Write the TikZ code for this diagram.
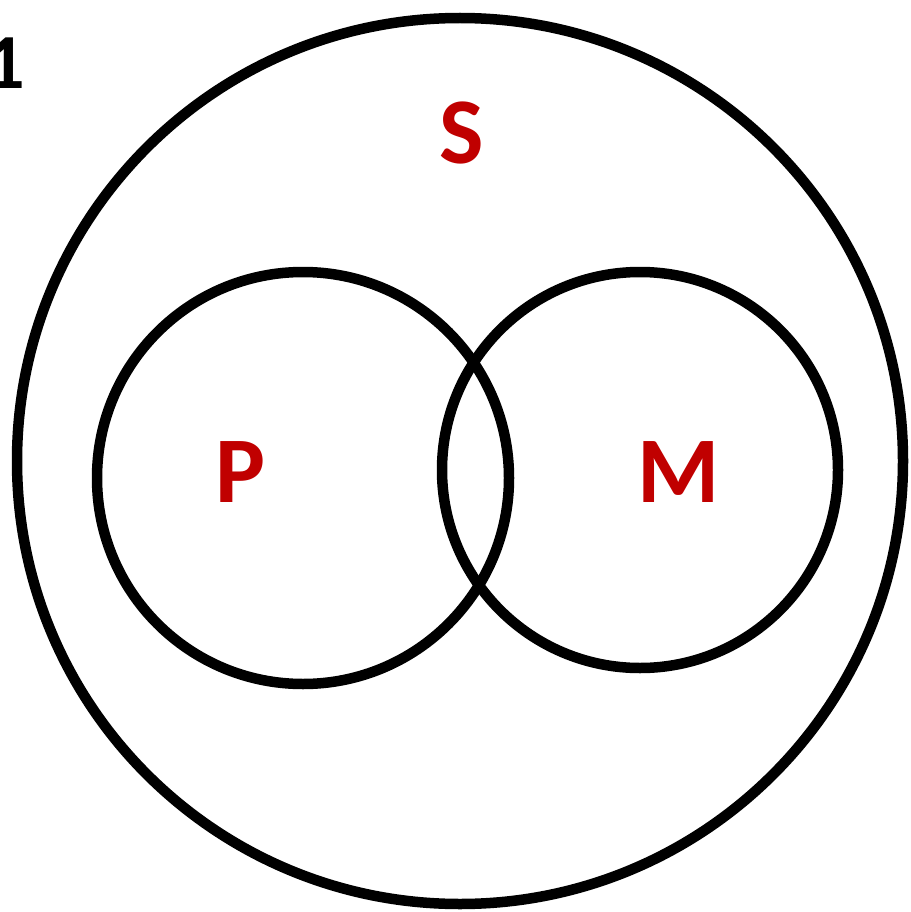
\documentclass[tikz,border=0pt]{standalone}
\usepackage{fontspec}
\setmainfont{Carlito}
\definecolor{labelred}{HTML}{C00000}
\begin{document}
\begin{tikzpicture}[x=1pt,y=-1pt,
  ring/.style={draw=black,line width=10.5pt,circle,inner sep=0pt},
  setlabel/.style={text=labelred,font=\fontsize{94}{94}\selectfont\bfseries,inner sep=0pt,anchor=center},
  numlabel/.style={text=black,font=\fontsize{78}{78}\selectfont\bfseries,inner sep=0pt}]
\useasboundingbox (0,0) rectangle (910,912);
\node[ring,minimum size=886pt] (S) at (460,461) {};
\node[ring,minimum size=412pt] (P) at (303,478) {};
\node[ring,minimum size=396pt] (M) at (640,470) {};
\node[setlabel] (Slab) at (462,133) {S};
\node[setlabel] (Plab) at (241,472) {P};
\node[setlabel] (Mlab) at (679,472) {M};
\node[numlabel,anchor=center] (num) at (5,63) {1};
\end{tikzpicture}
\end{document}
